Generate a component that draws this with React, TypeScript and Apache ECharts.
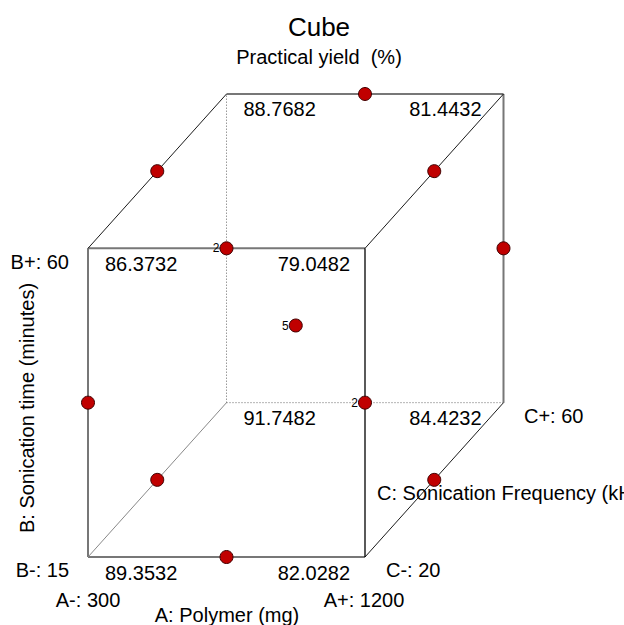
import React, { useEffect, useRef } from "react";
import * as echarts from "echarts";

const chartTitle = "Cube";
const chartSubtitle = "Practical yield  (%)";
const factorNameA = "A: Polymer (mg)";
const factorNameB = "B: Sonication time (minutes)";
const factorNameC = "C: Sonication Frequency (kHz)";
const levelLabelsA = ["A-: 300", "A+: 1200"];
const levelLabelsB = ["B-: 15", "B+: 60"];
const levelLabelsC = ["C-: 20", "C+: 60"];

// cube corners (coded levels) and predicted yield
const cornerA = [-1, 1, -1, 1, -1, 1, -1, 1];
const cornerB = [-1, -1, 1, 1, -1, -1, 1, 1];
const cornerC = [-1, -1, -1, -1, 1, 1, 1, 1];
const cornerYield = [89.3532, 82.0282, 86.3732, 79.0482, 91.7482, 84.4232, 88.7682, 81.4432];

// design runs (Box-Behnken: edge midpoints + center)
const runA = [-1, 1, -1, 1, -1, 1, -1, 1, 0, 0, 0, 0, 0];
const runB = [-1, -1, 1, 1, 0, 0, 0, 0, -1, 1, -1, 1, 0];
const runC = [0, 0, 0, 0, -1, -1, 1, 1, -1, -1, 1, 1, 0];
const runCount = [1, 1, 1, 1, 1, 1, 1, 1, 1, 1, 1, 1, 5];

// edges: [corner index, corner index, style]
const edges: [number, number, string][] = [
  [0, 1, "gray"],
  [2, 3, "gray"],
  [0, 2, "gray"],
  [1, 3, "black"],
  [6, 7, "gray"],
  [5, 7, "gray"],
  [2, 6, "thin"],
  [3, 7, "thin"],
  [1, 5, "thin"],
  [4, 6, "dot"],
  [4, 5, "dot"],
  [0, 4, "hidden"],
];

const proj = (a: number, b: number, c: number): [number, number] => [a + 0.5 * c, b + 0.5 * c];

const FONT = "Liberation Sans, Arial, sans-serif";

export default function App() {
  const ref = useRef<HTMLDivElement>(null);
  useEffect(() => {
    if (!ref.current) return;
    const chart = echarts.init(ref.current, undefined, { renderer: "svg" });

    const edgeStyles: Record<string, any> = {
      gray: { color: "#777777", width: 2, type: "solid" },
      black: { color: "#000000", width: 1.3, type: "solid" },
      thin: { color: "#000000", width: 0.9, type: "solid" },
      dot: { color: "#666666", width: 1, type: [1, 2] },
      hidden: { color: "#888888", width: 1, type: "solid" },
    };

    const edgeSeries = edges.map(([i, j, s]) => ({
      type: "line",
      data: [
        proj(cornerA[i], cornerB[i], cornerC[i]),
        proj(cornerA[j], cornerB[j], cornerC[j]),
      ],
      symbol: "none",
      silent: true,
      lineStyle: edgeStyles[s],
      z: 1,
    }));

    // aggregate runs by projected location
    const pts: { x: number; y: number; n: number }[] = [];
    runA.forEach((a, k) => {
      const [x, y] = proj(a, runB[k], runC[k]);
      const found = pts.find((p) => Math.abs(p.x - x) < 1e-9 && Math.abs(p.y - y) < 1e-9);
      if (found) found.n += runCount[k];
      else pts.push({ x, y, n: runCount[k] });
    });

    const cornerData = cornerYield.map((v, i) => {
      const [x, y] = proj(cornerA[i], cornerB[i], cornerC[i]);
      const left = cornerA[i] < 0;
      const dx = left ? 17 : cornerC[i] < 0 ? -15 : -22;
      return {
        value: [x, y],
        label: {
          show: true,
          formatter: v.toFixed(4),
          position: [dx, 15.5],
          align: left ? "left" : "right",
          verticalAlign: "middle",
          color: "#000000",
          fontFamily: FONT,
          fontSize: 20,
        },
      };
    });

    const option: any = {
      animation: false,
      backgroundColor: "#ffffff",
      grid: { left: 18.75, top: 55.4, width: 554, height: 540.2 },
      xAxis: { type: "value", min: -2, max: 2, show: false },
      yAxis: { type: "value", min: -1.75, max: 1.75, show: false },
      series: [
        ...edgeSeries,
        {
          type: "scatter",
          data: cornerData,
          symbolSize: 0,
          silent: true,
          z: 3,
          itemStyle: { opacity: 1 },
          label: { fontFamily: FONT, fontSize: 20, color: "#000000" },
        },
        {
          type: "scatter",
          data: pts.map((p) => ({ value: [p.x, p.y], n: p.n })),
          symbol: "circle",
          symbolSize: 13,
          z: 4,
          itemStyle: { color: "#c00000", borderColor: "#400000", borderWidth: 1, opacity: 1 },
          label: {
            show: true,
            position: "left",
            distance: 0,
            fontFamily: FONT,
            fontSize: 12,
            color: "#000000",
            formatter: (p: any) => (p.data.n > 1 ? String(p.data.n) : ""),
          },
        },
      ],
      graphic: [
        { type: "text", x: 319, y: 27, style: { text: chartTitle, font: `26px ${FONT}`, fill: "#000", textAlign: "center", textVerticalAlign: "middle" } },
        { type: "text", x: 319, y: 57, style: { text: chartSubtitle, font: `20px ${FONT}`, fill: "#000", textAlign: "center", textVerticalAlign: "middle" } },
        { type: "text", x: 69, y: 262, style: { text: levelLabelsB[1], font: `20px ${FONT}`, fill: "#000", textAlign: "right", textVerticalAlign: "middle" } },
        { type: "text", x: 69, y: 570, style: { text: levelLabelsB[0], font: `20px ${FONT}`, fill: "#000", textAlign: "right", textVerticalAlign: "middle" } },
        { type: "text", x: 88, y: 600, style: { text: levelLabelsA[0], font: `20px ${FONT}`, fill: "#000", textAlign: "center", textVerticalAlign: "middle" } },
        { type: "text", x: 364, y: 600, style: { text: levelLabelsA[1], font: `20px ${FONT}`, fill: "#000", textAlign: "center", textVerticalAlign: "middle" } },
        { type: "text", x: 227, y: 615, style: { text: factorNameA, font: `20px ${FONT}`, fill: "#000", textAlign: "center", textVerticalAlign: "middle" } },
        { type: "text", x: 386, y: 570, style: { text: levelLabelsC[0], font: `20px ${FONT}`, fill: "#000", textAlign: "left", textVerticalAlign: "middle" } },
        { type: "text", x: 524, y: 416, style: { text: levelLabelsC[1], font: `20px ${FONT}`, fill: "#000", textAlign: "left", textVerticalAlign: "middle" } },
        { type: "text", x: 377, y: 493, style: { text: factorNameC, font: `20px ${FONT}`, fill: "#000", textAlign: "left", textVerticalAlign: "middle" } },
        { type: "text", x: 27, y: 408, rotation: Math.PI / 2, style: { text: factorNameB, font: `20px ${FONT}`, fill: "#000", textAlign: "center", textVerticalAlign: "middle" } },
      ],
    };
    chart.setOption(option);
    return () => chart.dispose();
  }, []);
  return (
    <div
      ref={ref}
      style={{ position: "absolute", left: 0, top: 0, width: 624, height: 625, background: "#fff" }}
    />
  );
}
